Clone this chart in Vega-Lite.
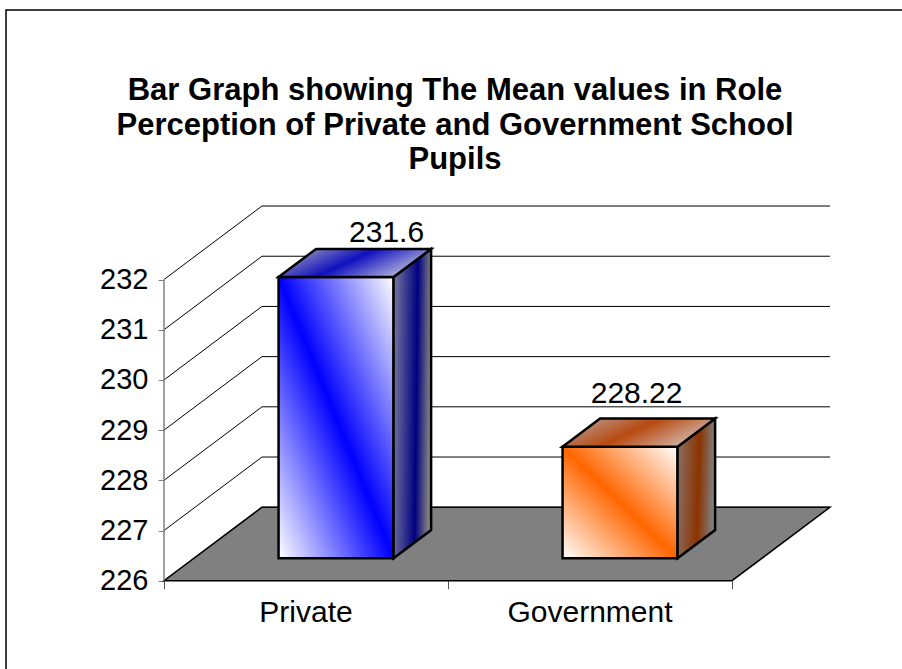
{
  "$schema": "https://vega.github.io/schema/vega-lite/v6.json",
  "width": 914,
  "height": 680,
  "autosize": {"type": "none"},
  "padding": {"left": 6, "top": 10, "right": 0, "bottom": 0},
  "background": "white",
  "config": {
    "view": {"stroke": "black", "strokeWidth": 1.5},
    "font": "Liberation Sans"
  },
  "title": {
    "text": ["Bar Graph showing The Mean values in Role", "Perception of Private and Government School", "Pupils"],
    "font": "Liberation Sans",
    "fontSize": 31,
    "fontWeight": "bold",
    "color": "black",
    "anchor": "middle",
    "frame": "group",
    "baseline": "top",
    "lineHeight": 34.5,
    "offset": -166,
    "dx": -8
  },
  "datasets": {
    "bars": [
      {"Group": "Private", "Mean": 231.6},
      {"Group": "Government", "Mean": 228.22}
    ],
    "grid": [
      {"v": 226}, {"v": 227}, {"v": 228}, {"v": 229}, {"v": 230}, {"v": 231}, {"v": 232}
    ]
  },
  "encoding": {
    "x": {"field": "px", "type": "quantitative", "scale": {"domain": [-0.5563, 2.662], "nice": false, "zero": false},
          "axis": {"values": [0, 1, 2], "offset": -109.3, "domain": false, "labels": false, "grid": false, "tickSize": 8, "tickColor": "#555555", "tickWidth": 1, "title": null}},
    "y": {"field": "py", "type": "quantitative", "scale": {"domain": [223.823, 237.369], "nice": false, "zero": false},
          "axis": {"values": [226, 227, 228, 229, 230, 231, 232], "offset": -158, "domain": false, "grid": false, "tickSize": 6, "tickColor": "#808080", "tickWidth": 1, "labelFontSize": 29, "labelFont": "Liberation Sans", "labelColor": "black", "labelPadding": 10, "title": null}}
  },
  "layer": [
    {
      "data": {"name": "grid"},
      "transform": [
        {"calculate": "0", "as": "px"},
        {"calculate": "0.345", "as": "px2"},
        {"calculate": "datum.v", "as": "py"},
        {"calculate": "datum.v + 1.464", "as": "py2"}
      ],
      "mark": {"type": "rule", "color": "black", "strokeWidth": 1},
      "encoding": {
        "x2": {"field": "px2"},
        "y2": {"field": "py2"}
      }
    },
    {
      "data": {"name": "grid"},
      "transform": [
        {"calculate": "0.345", "as": "px"},
        {"calculate": "2.345", "as": "px2"},
        {"calculate": "datum.v + 1.464", "as": "py"}
      ],
      "mark": {"type": "rule", "color": "black", "strokeWidth": 1},
      "encoding": {
        "x2": {"field": "px2"}
      }
    },
    {
      "data": {"values": [{"part": "floor"}]},
      "transform": [
        {"calculate": "[0, 1]", "as": "d"},
        {"flatten": ["d"]},
        {"calculate": "226 + datum.d * 1.464", "as": "py"},
        {"calculate": "datum.d * 0.345", "as": "px"},
        {"calculate": "2 + datum.d * 0.345", "as": "px2"}
      ],
      "mark": {"type": "area", "orient": "horizontal", "fill": "#808080", "stroke": "black", "strokeWidth": 1.5},
      "encoding": {
        "x2": {"field": "px2"}
      }
    },
    {
      "data": {"values": [{"part": "axis"}]},
      "transform": [
        {"calculate": "0", "as": "px"},
        {"calculate": "226", "as": "py"},
        {"calculate": "232", "as": "py2"}
      ],
      "mark": {"type": "rule", "color": "#808080", "strokeWidth": 1.5},
      "encoding": {
        "y2": {"field": "py2"}
      }
    },
    {
      "data": {"name": "bars"},
      "transform": [
        {"window": [{"op": "row_number", "as": "rn"}]},
        {"calculate": "datum.rn - 0.5", "as": "c"},
        {"calculate": "datum.c - 0.2025 + 0.307 * 0.345", "as": "px"},
        {"calculate": "datum.c + 0.2025 + 0.307 * 0.345", "as": "px2"},
        {"calculate": "226 + 0.307 * 1.464", "as": "py"},
        {"calculate": "datum.Mean + 0.307 * 1.464", "as": "py2"}
      ],
      "mark": {"type": "rect", "stroke": "black", "strokeWidth": 2.5},
      "encoding": {
        "x2": {"field": "px2"},
        "y2": {"field": "py2"},
        "fill": {
          "condition": {"test": "datum.Group === 'Private'", "value": {"gradient": "linear", "x1": 0, "y1": 1, "x2": 1, "y2": 0, "stops": [{"offset": 0, "color": "#ffffff"}, {"offset": 0.5, "color": "#0000ff"}, {"offset": 1, "color": "#ffffff"}]}},
          "value": {"gradient": "linear", "x1": 0, "y1": 1, "x2": 1, "y2": 0, "stops": [{"offset": 0, "color": "#ffffff"}, {"offset": 0.5, "color": "#ff6600"}, {"offset": 1, "color": "#ffffff"}]}
        }
      }
    },
    {
      "data": {"name": "bars"},
      "transform": [
        {"window": [{"op": "row_number", "as": "rn"}]},
        {"calculate": "datum.rn - 0.5", "as": "c"},
        {"calculate": "[0.307, 0.69]", "as": "d"},
        {"flatten": ["d"]},
        {"calculate": "datum.c + 0.2025 + datum.d * 0.345", "as": "px"},
        {"calculate": "226 + datum.d * 1.464", "as": "py"},
        {"calculate": "datum.Mean + datum.d * 1.464", "as": "py2"}
      ],
      "mark": {"type": "area", "orient": "vertical", "stroke": "black", "strokeWidth": 2.5, "strokeJoin": "miter"},
      "encoding": {
        "y2": {"field": "py2"},
        "detail": {"field": "Group", "type": "nominal"},
        "fill": {
          "condition": {"test": "datum.Group === 'Private'", "value": {"gradient": "linear", "x1": 0, "y1": 0, "x2": 1, "y2": 0.1, "stops": [{"offset": 0, "color": "#7a7aa0"}, {"offset": 0.65, "color": "#000080"}, {"offset": 1, "color": "#808080"}]}},
          "value": {"gradient": "linear", "x1": 0, "y1": 0, "x2": 1, "y2": 0.1, "stops": [{"offset": 0, "color": "#8a7068"}, {"offset": 0.6, "color": "#8b3300"}, {"offset": 1, "color": "#808080"}]}
        }
      }
    },
    {
      "data": {"name": "bars"},
      "transform": [
        {"window": [{"op": "row_number", "as": "rn"}]},
        {"calculate": "datum.rn - 0.5", "as": "c"},
        {"calculate": "[0.307, 0.69]", "as": "d"},
        {"flatten": ["d"]},
        {"calculate": "datum.c - 0.2025 + datum.d * 0.345", "as": "px"},
        {"calculate": "datum.c + 0.2025 + datum.d * 0.345", "as": "px2"},
        {"calculate": "datum.Mean + datum.d * 1.464", "as": "py"}
      ],
      "mark": {"type": "area", "orient": "horizontal", "stroke": "black", "strokeWidth": 2.5, "strokeJoin": "miter"},
      "encoding": {
        "x2": {"field": "px2"},
        "detail": {"field": "Group", "type": "nominal"},
        "fill": {
          "condition": {"test": "datum.Group === 'Private'", "value": {"gradient": "linear", "x1": 0, "y1": 0.3, "x2": 1, "y2": 0.7, "stops": [{"offset": 0, "color": "#9a9abc"}, {"offset": 0.45, "color": "#1010c0"}, {"offset": 1, "color": "#d4d4e0"}]}},
          "value": {"gradient": "linear", "x1": 0, "y1": 0.3, "x2": 1, "y2": 0.7, "stops": [{"offset": 0, "color": "#b89a90"}, {"offset": 0.45, "color": "#b84a10"}, {"offset": 1, "color": "#d6c8c4"}]}
        }
      }
    },
    {
      "data": {"name": "bars"},
      "transform": [
        {"window": [{"op": "row_number", "as": "rn"}]},
        {"calculate": "datum.rn - 0.5", "as": "px"},
        {"calculate": "226", "as": "py"}
      ],
      "mark": {"type": "text", "fontSize": 30, "font": "Liberation Sans", "color": "black", "baseline": "middle", "align": "center", "dy": 32},
      "encoding": {
        "text": {"field": "Group", "type": "nominal"}
      }
    },
    {
      "data": {"name": "bars"},
      "transform": [
        {"window": [{"op": "row_number", "as": "rn"}]},
        {"filter": "datum.Group === 'Private'"},
        {"calculate": "datum.rn - 0.5 + 0.69 * 0.345", "as": "px"},
        {"calculate": "datum.Mean + 0.69 * 1.464", "as": "py"}
      ],
      "mark": {"type": "text", "fontSize": 30, "font": "Liberation Sans", "color": "black", "baseline": "middle", "align": "center", "dx": 13, "dy": -16},
      "encoding": {
        "text": {"field": "Mean", "type": "nominal"}
      }
    },
    {
      "data": {"name": "bars"},
      "transform": [
        {"window": [{"op": "row_number", "as": "rn"}]},
        {"filter": "datum.Group === 'Government'"},
        {"calculate": "datum.rn - 0.5 + 0.69 * 0.345", "as": "px"},
        {"calculate": "datum.Mean + 0.69 * 1.464", "as": "py"}
      ],
      "mark": {"type": "text", "fontSize": 30, "font": "Liberation Sans", "color": "black", "baseline": "middle", "align": "center", "dx": -21, "dy": -25},
      "encoding": {
        "text": {"field": "Mean", "type": "nominal"}
      }
    }
  ]
}
